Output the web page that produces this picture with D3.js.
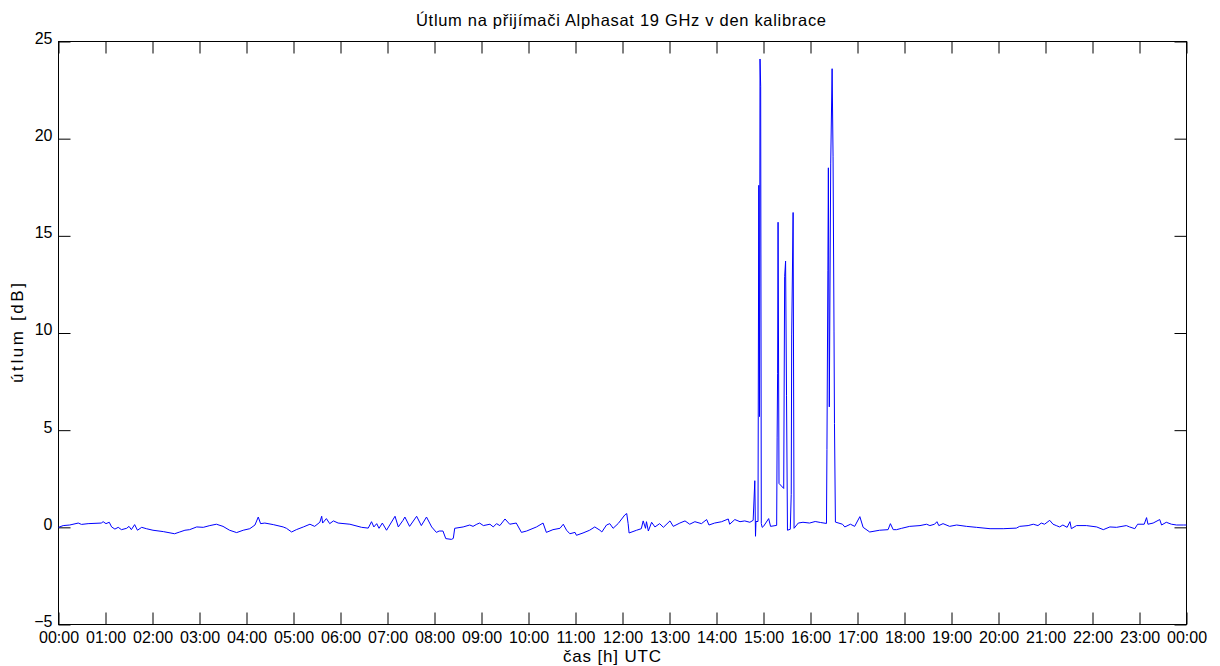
<!DOCTYPE html>
<html>
<head>
<meta charset="utf-8">
<script src="https://cdn.jsdelivr.net/npm/d3@7"></script>
<style>
  body { margin: 0; background: #fff; }
  text { font-family: "Liberation Sans", Arial, sans-serif; fill: #000; }
</style>
</head>
<body>
<script>
// time of day [h] and attenuation [dB]
var hours = [
  0, 0.1, 0.24, 0.42, 0.49, 0.63, 0.91, 0.95, 1.01, 1.08,
  1.13, 1.2, 1.27, 1.34, 1.45, 1.5, 1.55, 1.62, 1.68, 1.77,
  1.87, 2.01, 2.23, 2.47, 2.58, 2.69, 2.79, 2.94, 3.08, 3.22,
  3.36, 3.5, 3.64, 3.79, 3.93, 4.07, 4.18, 4.25, 4.3, 4.39,
  4.57, 4.78, 4.85, 4.96, 5.06, 5.21, 5.35, 5.45, 5.56, 5.6,
  5.62, 5.7, 5.77, 5.85, 5.95, 6.2, 6.45, 6.59, 6.66, 6.71,
  6.77, 6.82, 6.89, 6.98, 7.16, 7.23, 7.33, 7.37, 7.47, 7.62,
  7.72, 7.83, 7.94, 8.04, 8.1, 8.18, 8.24, 8.36, 8.4, 8.43,
  8.61, 8.75, 8.82, 8.9, 8.96, 9.04, 9.18, 9.25, 9.32, 9.39,
  9.5, 9.6, 9.74, 9.85, 9.96, 10.17, 10.31, 10.38, 10.52, 10.67,
  10.74, 10.81, 10.88, 10.99, 11.02, 11.16, 11.3, 11.41, 11.52, 11.56,
  11.66, 11.73, 11.8, 11.91, 12.05, 12.09, 12.12, 12.14, 12.3, 12.4,
  12.44, 12.49, 12.51, 12.55, 12.62, 12.69, 12.79, 12.87, 13.01, 13.08,
  13.22, 13.33, 13.43, 13.54, 13.68, 13.79, 13.84, 13.96, 14.11, 14.25,
  14.28, 14.39, 14.5, 14.6, 14.71, 14.78, 14.815, 14.83, 14.84, 14.883,
  14.9, 14.915, 14.926, 14.94, 14.953, 14.972, 15.0, 15.11, 15.15, 15.28,
  15.29, 15.3, 15.31, 15.33, 15.43, 15.45, 15.47, 15.49, 15.51, 15.57,
  15.59, 15.6, 15.63, 15.65, 15.74, 15.84, 15.98, 16.1, 16.21, 16.34,
  16.35, 16.37, 16.38, 16.4, 16.43, 16.46, 16.48, 16.5, 16.51, 16.53,
  16.68, 16.73, 16.85, 16.94, 17.05, 17.12, 17.26, 17.47, 17.65, 17.7,
  17.76, 17.83, 17.94, 18.11, 18.33, 18.47, 18.54, 18.64, 18.69, 18.73,
  18.82, 18.96, 19.11, 19.32, 19.53, 19.82, 20.1, 20.38, 20.45, 20.63,
  20.74, 20.84, 20.91, 20.98, 21.09, 21.16, 21.23, 21.3, 21.37, 21.46,
  21.52, 21.55, 21.66, 21.87, 22.09, 22.23, 22.37, 22.51, 22.72, 22.79,
  22.9, 22.96, 23.1, 23.15, 23.18, 23.29, 23.43, 23.47, 23.57, 23.68,
  23.79, 23.94, 24
];
var attenuation = [
  0.0, 0.09, 0.12, 0.22, 0.15, 0.19, 0.22, 0.29, 0.19, 0.26,
  0.02, -0.09, 0.0, -0.12, -0.05, 0.05, -0.12, 0.14, -0.15, 0.0,
  -0.07, -0.15, -0.22, -0.33, -0.24, -0.15, -0.12, 0.02, 0.0, 0.09,
  0.16, 0.05, -0.15, -0.27, -0.15, -0.07, 0.12, 0.53, 0.19, 0.22,
  0.14, 0.02, -0.05, -0.24, -0.12, 0.02, 0.16, 0.05, 0.26, 0.57,
  0.22, 0.45, 0.19, 0.33, 0.22, 0.16, 0.0, -0.04, 0.29, 0.02,
  0.19, -0.05, 0.22, -0.15, 0.57, 0.02, 0.36, 0.53, 0.05, 0.57,
  0.09, 0.53, 0.02, -0.26, -0.19, -0.19, -0.58, -0.62, -0.57, -0.05,
  0.02, 0.12, 0.05, 0.16, 0.22, 0.09, 0.16, 0.02, 0.19, 0.09,
  0.43, 0.16, 0.22, -0.26, -0.19, 0.02, 0.22, -0.26, -0.12, -0.05,
  0.16, -0.15, -0.33, -0.26, -0.41, -0.29, -0.15, 0.02, -0.15, -0.24,
  0.12, 0.19, -0.05, 0.2, 0.64, 0.71, 0.19, -0.29, -0.15, -0.07,
  0.33, -0.05, 0.29, -0.19, 0.26, 0.02, 0.19, 0.0, 0.33, 0.05,
  0.22, 0.33, 0.16, 0.29, 0.19, 0.40, 0.12, 0.22, 0.29, 0.43,
  0.16, 0.40, 0.29, 0.33, 0.26, 0.36, 2.4, -0.46, 0.3, 0.3,
  17.6, 5.7, 24.1, 22.7, 0.2, 0.0, 0.05, 0.45, 0.05, 0.1,
  4.6, 7.9, 15.7, 2.26, 2.0, 12.9, 13.7, 6.8, -0.15, -0.1,
  1.7, 9.9, 16.2, -0.05, 0.22, 0.26, 0.22, 0.3, 0.25, 0.2,
  4.0, 13.2, 18.5, 6.2, 18.7, 23.6, 19.1, 10.1, 5.35, 0.27,
  0.16, 0.02, 0.16, 0.05, 0.55, 0.0, -0.24, -0.15, -0.12, 0.19,
  -0.12, -0.12, -0.05, 0.05, 0.09, 0.16, 0.09, 0.16, 0.29, 0.09,
  0.19, 0.05, 0.12, 0.05, 0.0, -0.07, -0.07, -0.04, 0.05, 0.09,
  0.16, 0.09, 0.22, 0.16, 0.36, 0.16, 0.09, 0.02, 0.12, 0.0,
  0.29, -0.07, 0.09, 0.09, 0.02, -0.12, 0.02, 0.0, 0.09, 0.02,
  -0.07, 0.16, 0.16, 0.5, 0.16, 0.22, 0.40, 0.12, 0.26, 0.16,
  0.12, 0.12, 0.12
];

var xTicks = d3.range(0, 25);
var xTickLabels = ["00:00", "01:00", "02:00", "03:00", "04:00", "05:00", "06:00",
                   "07:00", "08:00", "09:00", "10:00", "11:00", "12:00", "13:00",
                   "14:00", "15:00", "16:00", "17:00", "18:00", "19:00", "20:00",
                   "21:00", "22:00", "23:00", "00:00"];
var yTicks = [-5, 0, 5, 10, 15, 20, 25];

var titleText = "Útlum na přijímači Alphasat 19 GHz v den kalibrace";
var xLabelText = "čas [h] UTC";
var yLabelText = "útlum [dB]";

var svg = d3.select("body")
            .append("svg")
            .attr("width", 1220)
            .attr("height", 666);

var x = d3.scaleLinear()
    .domain([0, 24])
    .range([58.5, 1186.5]);
var y = d3.scaleLinear()
    .domain([-5, 25])
    .range([624.5, 41.5]);

// axes, ticks pointing inward on all four sides
svg.append("g")
    .attr("transform", "translate(0,624.5)")
    .call(d3.axisBottom(x).tickValues(xTicks).tickSize(-12).tickPadding(7)
            .tickFormat(function(d, i) { return xTickLabels[i]; }));
svg.append("g")
    .attr("transform", "translate(0,41.5)")
    .call(d3.axisTop(x).tickValues(xTicks).tickSize(-12).tickFormat(""));
var left = svg.append("g")
    .attr("transform", "translate(58.5,0)")
    .call(d3.axisLeft(y).tickValues(yTicks).tickSize(-12).tickPadding(6));
svg.append("g")
    .attr("transform", "translate(1186.5,0)")
    .call(d3.axisRight(y).tickValues(yTicks).tickSize(-12).tickFormat(""));

svg.selectAll(".domain").remove();
svg.selectAll(".tick line").attr("stroke", "#000");
svg.selectAll(".tick text")
    .attr("font-size", "16px")
    .attr("font-family", "Liberation Sans, Arial, sans-serif");
left.selectAll(".tick text").attr("dy", "0.12em");

svg.append("rect")
    .attr("x", 58.5)
    .attr("y", 41.5)
    .attr("width", 1128)
    .attr("height", 583)
    .attr("fill", "none")
    .attr("stroke", "#000");

var pts = hours.map(function(h, i) { return [h, attenuation[i]]; });
var line = d3.line()
    .x(function(d) { return x(d[0]); })
    .y(function(d) { return y(d[1]); });

svg.append("path")
    .datum(pts)
    .attr("d", line)
    .attr("fill", "none")
    .attr("stroke", "#0000ff")
    .attr("stroke-width", 1);

svg.append("text")
    .attr("x", 621)
    .attr("y", 26)
    .attr("text-anchor", "middle")
    .attr("font-size", "16.5px")
    .attr("textLength", 410)
    .text(titleText);

svg.append("text")
    .attr("x", 612)
    .attr("y", 662)
    .attr("text-anchor", "middle")
    .attr("font-size", "17px")
    .attr("textLength", 98)
    .text(xLabelText);

svg.append("text")
    .attr("transform", "translate(23,333) rotate(-90)")
    .attr("text-anchor", "middle")
    .attr("font-size", "17px")
    .attr("textLength", 100)
    .text(yLabelText);
</script>
</body>
</html>
